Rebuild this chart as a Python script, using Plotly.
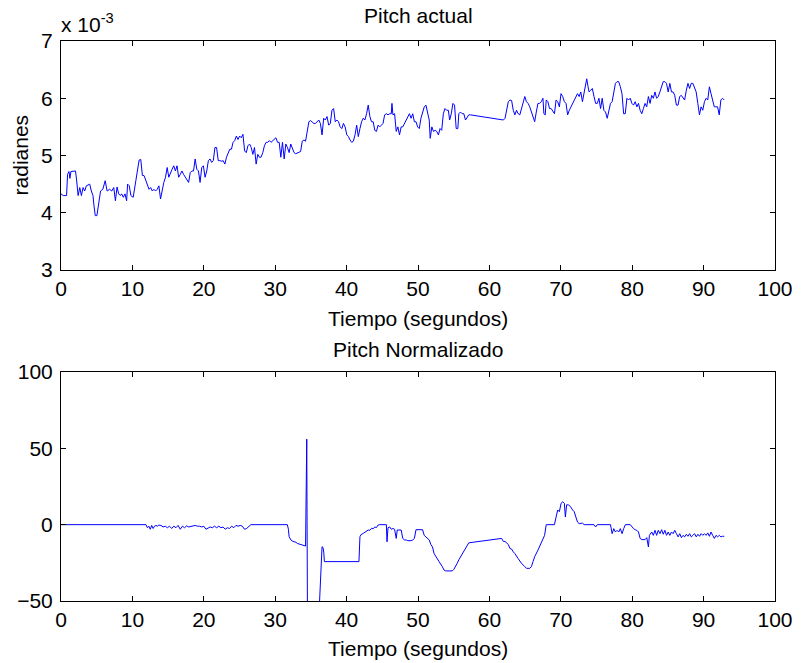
import plotly.graph_objects as go

# ---------------- data ----------------
top_t = [0, 0.32, 0.78, 0.92, 1.11, 1.25, 1.39, 1.71, 2.03, 2.17, 2.40, 2.63, 2.86, 3.09, 3.32,
         3.55, 4.02, 4.25, 4.48, 4.62, 4.80, 5.03, 5.26, 5.54, 5.86, 6.19, 6.46, 6.79, 7.11, 7.39,
         7.62, 7.85, 8.08, 8.31, 8.49, 8.73, 8.96, 9.19, 9.33, 9.56, 9.79, 10.11, 10.48, 10.71, 10.94,
         11.17, 11.40, 11.63, 11.87, 12.10, 12.33, 12.56, 12.79, 13.02, 13.25, 13.48, 13.71, 13.94,
         14.17, 14.40, 14.64, 14.87, 15.10, 15.33, 15.56, 15.79, 16.02, 16.25, 16.48, 16.71, 16.94,
         17.17, 17.41, 17.64, 17.87, 18.10, 18.33, 18.56, 18.79, 19.02, 19.25, 19.48, 19.71, 19.94,
         20.18, 20.41, 20.64, 20.87, 21.10, 21.33, 21.56, 21.79, 22.02, 22.25, 22.48, 22.71, 22.95,
         23.18, 23.41, 23.64, 23.87, 24.10, 24.33, 24.56, 24.79, 25.02, 25.25, 25.48, 25.72, 25.95,
         26.18, 26.41, 26.64, 26.87, 27.10, 27.33, 27.56, 27.79, 28.02, 28.26, 28.49, 28.72, 28.95,
         29.18, 29.41, 29.64, 29.87, 30.10, 30.33, 30.56, 30.79, 31.02, 31.26, 31.49, 31.72, 31.95,
         32.18, 32.41, 32.64, 32.87, 33.33,
         33.56, 33.79, 34.02, 34.25, 34.49, 34.72, 34.95, 35.18, 35.41, 35.64, 35.87, 36.10, 36.33,
         36.56, 36.79, 37.02, 37.26, 37.49, 37.72, 37.95, 38.18, 38.41, 38.64, 38.87, 39.10, 39.33,
         39.56, 39.79, 40.03, 40.26, 40.49, 40.72, 40.95, 41.18, 41.41, 41.64, 41.87, 42.10, 42.33,
         42.56, 42.80, 43.03, 43.26, 43.49, 43.72, 43.95, 44.18, 44.41, 44.64, 44.87, 45.10, 45.33,
         45.57, 45.80, 46.03, 46.26, 46.35, 46.49, 46.72, 46.95, 47.18, 47.41, 47.64, 47.87, 48.11,
         48.34, 48.57, 48.80, 49.03, 49.26, 49.49, 49.72, 49.95, 50.18, 50.41, 50.64, 50.88, 51.11,
         51.34, 51.57, 51.71, 51.94, 52.17, 52.40, 52.63, 52.86, 53.09, 53.32, 53.55, 53.78, 54.01,
         54.25, 54.43, 54.66, 54.89, 55.12, 55.35, 55.58, 55.72, 55.95, 56.18, 56.42, 56.65, 56.88,
         57.11, 57.34, 61.73, 61.96, 62.19, 62.42, 62.65, 62.88, 63.11, 63.34, 63.57, 63.80, 64.03,
         64.26, 64.49, 64.73, 64.96, 65.19, 65.42, 65.65, 65.88, 66.11,
         66.34, 66.57, 66.80, 67.03, 67.26, 67.50, 67.63, 67.82, 67.96, 68.19, 68.42, 68.65, 68.88,
         69.11, 69.34, 69.57, 69.80, 70.03, 70.26, 70.50, 70.73, 70.96, 71.19, 71.42, 71.65, 71.88,
         72.11, 72.34, 72.57, 72.80, 73.03, 73.26, 73.50, 73.63, 73.82, 73.96, 74.19, 74.42, 74.65,
         74.88, 75.11, 75.34, 75.57, 75.80, 76.03, 76.26, 76.50, 76.73, 76.96, 77.19, 77.42, 77.65,
         77.88, 78.11, 78.34, 78.57, 78.80, 79.03, 79.26, 79.50, 79.73, 79.96, 80.19, 80.42, 80.65,
         80.88, 81.11, 81.34, 81.57, 81.80, 82.03, 82.27, 82.50, 82.73, 82.96, 83.19, 83.42, 83.65,
         83.88, 84.11, 84.34, 84.57, 84.80, 85.04, 85.27, 85.50, 85.73, 85.96, 86.19, 86.42, 86.65,
         86.88, 87.11, 87.34, 87.58, 87.81, 88.04, 88.27, 88.50, 88.73, 88.96, 89.19, 89.42, 89.65,
         89.88, 90.12, 90.35, 90.58, 90.81, 91.04, 91.27, 91.50, 91.73, 91.96, 92.19, 92.42, 92.65,
         92.89]
top_v = [4.33, 4.30, 4.30, 4.67, 4.72, 4.60, 4.72, 4.73, 4.73, 4.59, 4.30, 4.44, 4.30, 4.44, 4.38,
         4.47, 4.50, 4.38, 4.30, 4.12, 3.95, 3.95, 4.15, 4.38, 4.41, 4.56, 4.38, 4.41, 4.38, 4.44,
         4.21, 4.45, 4.33, 4.30, 4.33, 4.27, 4.33, 4.21, 4.50, 4.47, 4.30, 4.27, 4.56, 4.73, 4.92,
         4.93, 4.65, 4.65, 4.56, 4.50, 4.41, 4.44, 4.38, 4.41, 4.38, 4.41, 4.47, 4.24,
         4.41, 4.53, 4.62, 4.79, 4.62, 4.70, 4.76, 4.82, 4.73, 4.82, 4.62, 4.67, 4.73,
         4.67, 4.62, 4.56, 4.53, 4.70, 4.73, 4.73, 4.94, 4.76, 4.73, 4.53, 4.79, 4.82,
         4.62, 4.73, 4.91, 4.94, 4.88, 4.91, 5.14, 5.14, 4.91, 4.91, 4.90, 4.91, 4.85,
         4.97, 5.05, 5.11, 5.11, 5.23, 5.26, 5.34, 5.28, 5.34, 5.31, 5.37, 5.08, 5.05,
         5.17, 5.20, 5.14, 5.02, 5.14, 4.85, 5.02, 4.97, 4.97, 5.05, 5.17, 5.23, 5.23,
         5.26, 5.23, 5.26, 5.28, 5.31, 5.23, 5.23, 4.97, 5.23, 4.94, 5.20, 5.14, 5.05,
         5.20, 5.14, 5.05, 5.03, 5.05,
         5.07, 5.25, 5.27, 5.25, 5.42, 5.59, 5.61, 5.59, 5.56, 5.56, 5.59, 5.62, 5.56,
         5.36, 5.65, 5.62, 5.68, 5.53, 5.56, 5.79, 5.82, 5.59, 5.62, 5.59, 5.50, 5.47,
         5.56, 5.50, 5.36, 5.33, 5.27, 5.23, 5.25, 5.36, 5.53, 5.33, 5.47, 5.59, 5.65,
         5.62, 5.73, 5.88, 5.68, 5.59, 5.59, 5.44, 5.42, 5.53, 5.50, 5.53, 5.56, 5.71,
         5.73, 5.71, 5.73, 5.73, 5.91, 5.71, 5.73, 5.42, 5.50, 5.36, 5.50, 5.50, 5.56,
         5.59, 5.65, 5.73, 5.65, 5.73, 5.59, 5.59, 5.50, 5.47, 5.65, 5.73, 5.85, 5.88,
         5.73, 5.62, 5.30, 5.50, 5.42, 5.44, 5.42, 5.36, 5.47, 5.44, 5.73, 5.82, 5.79,
         5.79, 5.62, 5.73, 5.91, 5.88, 5.47, 5.47, 5.73, 5.76, 5.73, 5.73, 5.62, 5.68,
         5.71, 5.71, 5.62, 5.62, 5.65, 5.79, 5.94, 5.97, 5.96, 5.79, 5.71, 5.79, 5.73,
         5.71, 5.82, 5.94, 6.03, 5.94, 5.91, 5.85, 5.76, 5.71,
         5.59, 5.76, 5.91, 5.91, 5.94, 6.00, 5.73, 5.71, 5.97, 5.94, 5.82, 5.82, 5.76,
         5.73, 5.97, 5.94, 5.85, 6.08, 6.03, 5.94, 5.91, 5.71, 5.79, 5.85, 5.91, 5.97,
         6.00, 6.08, 6.03, 6.11, 5.94, 6.08, 6.22, 6.34, 6.20, 6.11, 6.14, 6.17, 6.03,
         5.91, 5.91, 6.00, 5.82, 6.00, 5.79, 5.76, 5.65, 5.79, 5.91, 5.94, 6.14, 6.26,
         6.29, 6.29, 6.20, 6.08, 5.73, 5.73, 6.00, 5.97, 6.00, 5.91, 5.88, 5.94, 5.85,
         5.91, 5.79, 5.73, 5.82, 5.91, 5.85, 6.03, 5.91, 6.05, 6.00, 6.11, 6.00, 6.03,
         6.11, 6.20, 6.29, 6.29, 6.26, 6.11, 6.26, 6.11, 6.11, 6.05, 5.88, 5.88, 6.03,
         6.05, 6.00, 5.97, 6.14, 6.26, 6.17, 6.26, 6.26, 6.17, 6.11, 5.91, 5.71, 5.85,
         5.79, 5.94, 6.00, 5.97, 6.20, 6.08, 5.97, 5.85, 5.85, 5.85, 5.71, 5.97, 6.00,
         5.97]

bot_t = [0, 11.9, 12.1, 12.3, 12.5, 12.7, 12.9, 13.1, 13.3, 13.5, 13.7, 14.0, 14.3, 14.6, 14.9,
         15.2, 15.5, 15.8, 16.1, 16.4, 16.7, 17.0, 17.3, 17.6, 17.9, 18.2, 18.5, 18.8, 19.1, 19.4,
         19.7, 20.0, 20.3, 20.6, 20.9, 21.2, 21.5, 21.8, 22.1, 22.4, 22.7, 23.0, 23.3, 23.6, 23.9,
         24.2, 24.5, 24.8, 25.1, 25.4, 25.7, 26.0, 26.3, 26.6, 31.7, 31.85, 31.95, 32.2, 32.5,
         32.9, 33.1, 33.5, 33.8, 34.02, 34.25, 34.42, 34.52, 36.10, 36.56, 36.70, 36.80, 36.89,
         41.73, 41.87, 42.01, 42.33, 42.80, 43.03, 43.26, 43.49, 43.72, 43.95, 44.18, 44.41, 44.64,
         45.57, 45.66, 45.80, 46.03, 46.26, 46.49, 46.72, 46.95, 47.09, 47.64, 47.87, 48.10, 48.34,
         48.57, 49.03, 49.26, 49.49, 49.72, 50.64, 50.87, 51.11, 51.34, 51.57, 51.80, 52.03, 52.26,
         52.49, 52.95, 53.41, 53.64, 53.88, 54.80, 55.03, 55.26, 55.49, 55.72, 55.95, 56.18, 56.41,
         56.65, 56.88, 57.11, 61.72, 61.96, 62.19, 62.65, 62.88, 63.11, 63.34, 63.57, 64.03, 64.49,
         64.96, 65.19, 65.65, 65.88, 66.11, 66.34, 66.80, 67.26, 67.50, 67.73, 67.96, 69.11, 69.34,
         69.57, 69.80, 70.04, 70.27, 70.50, 70.64, 70.82, 71.05, 71.33, 71.65, 71.88, 72.11, 72.34,
         72.57, 72.81, 73.04, 73.27, 74.65, 74.88, 75.11, 76.96, 77.19, 77.42, 77.65, 77.88, 78.11,
         78.34, 78.58, 78.81, 79.04, 79.73, 79.96, 80.19, 80.42, 80.65, 80.88, 81.11, 81.35, 81.81,
         82.04, 82.27, 82.41, 82.59, 82.73, 82.96, 83.19, 83.42, 83.65, 83.89, 84.12, 84.35, 84.58,
         84.81, 85.04, 85.27, 85.50, 85.73, 85.96, 86.19, 86.43, 86.66, 86.89, 87.12, 87.35, 87.58,
         87.81, 88.04, 88.27, 88.50, 88.73, 88.97, 89.20, 89.43, 89.66, 89.89, 90.12, 90.35, 90.58,
         90.81, 91.04, 91.27, 91.51, 91.74, 91.97, 92.20, 92.43, 92.66, 92.89]
bot_v = [0, 0, -2, -1, -3, -0.5, -2.5, -1, -0.5, -1, -0.3, -0.5, -1.5, -1, -2,
         -1, -2.5, -1, -2, -0.5, -3, -1, -2, -0.8, -1.5, -1, -0.5, -0.5, -1, -1,
         -1.5, -1, -3, -2.5, -1.5, -2, -1, -2, -1, -2, -1.5, -3, -2, -2.5, -1,
         -2, -0.5, -1, -0.5, -1, -3, -2.5, -1, 0, 0, -3, -7.9, -10, -11,
         -11.5, -12.3, -12.8, -13, -13.4, -14, 56, -62, -62, -14.4, -15, -18, -24.2,
         -24.2, -7.9, -6.6, -5.7, -4.5, -3.5, -3.7, -2.4, -2.7, -1.5, -1.9, -0.2, 0,
         0, -11.2, -2, -1.5, -3, -2.5, -3, -9, -3.5, -3.5, -9, -10, -10,
         -10.5, -10.5, -10, -9, -3.3, -3.3, -7, -8, -9, -10, -13, -14.6, -19,
         -21, -24.2, -27.5, -29.7, -30.3, -30.3, -29.2, -27.5, -25.3, -23, -21, -20, -17.8,
         -15.6, -13.4, -11.9, -9, -11, -11, -13, -15.6, -16, -17.8, -19, -22.2, -25.3,
         -27.5, -28.6, -28.6, -27.5, -24.2, -21, -16.7, -12.3, -9.8, -7, 0, 0, 5,
         9.6, 8.5, 14, 15, 14, 5, 13, 13, 12, 9.6, 8.5, 5, 1.7,
         0.7, 0.7, 1, 0, 0, -1.5, 0, 0, -5.9, -2.6, -4.8, -3.7, -4.8,
         -2.6, -5.9, -2.6, 0, 0, -1.5, -2.6, -3.3, -3.7, -4.8, -9, -9.8, -9.8,
         -8.5, -14.6, -7, -5.9, -4.8, -7, -3.7, -7, -3.7, -5.9, -3.3, -6.3, -3.7,
         -7, -4.8, -7, -4.8, -5.9, -3.7, -5.9, -8, -5.9, -8.5, -7, -8, -6.3,
         -7.6, -5.9, -8, -7, -5.9, -8, -6.3, -7.6, -5.9, -7, -5.9, -7, -5.4,
         -7.6, -4.8, -7, -9, -7, -8, -7, -8, -7.6, -7.6]

x_ticks = [0, 10, 20, 30, 40, 50, 60, 70, 80, 90, 100]
top_y_ticks = [3, 4, 5, 6, 7]
bot_y_ticks = [-50, 0, 50, 100]

title_top = "Pitch actual"
title_bot = "Pitch Normalizado"
xlabel = "Tiempo (segundos)"
ylabel_top = "radianes"
exp_label = "x 10<sup>-3</sup>"

# ---------------- figure ----------------
FONT = "Liberation Sans, Arial, sans-serif"
FS = 21
W, H = 805, 663
ML, MR, MT, MB = 61, 22, 41, 62
plot_h = H - MT - MB

def py(pix):
    return (H - MB - pix) / plot_h

def px(pix):
    return (pix - ML) / (W - ML - MR)

fig = go.Figure()
fig.add_trace(go.Scatter(x=top_t, y=top_v, mode="lines", line=dict(color="#0000ff", width=1),
                         xaxis="x", yaxis="y", showlegend=False, hoverinfo="skip"))
fig.add_trace(go.Scatter(x=bot_t, y=bot_v, mode="lines", line=dict(color="#0000ff", width=1),
                         xaxis="x2", yaxis="y2", showlegend=False, hoverinfo="skip"))

axis_common = dict(showline=True, linecolor="black", linewidth=1, mirror="ticks",
                   ticks="inside", ticklen=5, tickcolor="black", tickwidth=1,
                   showgrid=False, zeroline=False,
                   tickfont=dict(family=FONT, size=FS, color="black"))

fig.update_layout(
    width=W, height=H,
    margin=dict(l=ML, r=MR, t=MT, b=MB),
    paper_bgcolor="white", plot_bgcolor="white",
    xaxis=dict(domain=[0, 1], range=[0, 100], tickvals=x_ticks, anchor="y", **axis_common),
    yaxis=dict(domain=[py(270), 1], range=[3, 7], tickvals=top_y_ticks, anchor="x",
               ticklabelstandoff=3, **axis_common),
    xaxis2=dict(domain=[0, 1], range=[0, 100], tickvals=x_ticks, anchor="y2", **axis_common),
    yaxis2=dict(domain=[0, py(372)], range=[-50, 100], tickvals=bot_y_ticks, anchor="x2",
                ticklabelstandoff=3, **axis_common),
)

ann_font = dict(family=FONT, size=FS, color="black")
fig.add_annotation(text=title_top, x=0.5, y=py(16), xref="paper", yref="paper",
                   xanchor="center", yanchor="middle", showarrow=False, font=ann_font)
fig.add_annotation(text=xlabel, x=0.5, y=py(318), xref="paper", yref="paper",
                   xanchor="center", yanchor="middle", showarrow=False, font=ann_font)
fig.add_annotation(text=title_bot, x=0.5, y=py(349), xref="paper", yref="paper",
                   xanchor="center", yanchor="middle", showarrow=False, font=ann_font)
fig.add_annotation(text=xlabel, x=0.5, y=py(648), xref="paper", yref="paper",
                   xanchor="center", yanchor="middle", showarrow=False, font=ann_font)
fig.add_annotation(text=ylabel_top, x=px(20), y=py(155), xref="paper", yref="paper",
                   xanchor="center", yanchor="middle", textangle=-90, showarrow=False, font=ann_font)
fig.add_annotation(text=exp_label, x=px(59), y=py(23), xref="paper", yref="paper",
                   xanchor="left", yanchor="middle", showarrow=False, font=ann_font)

fig.write_html("out.html")
